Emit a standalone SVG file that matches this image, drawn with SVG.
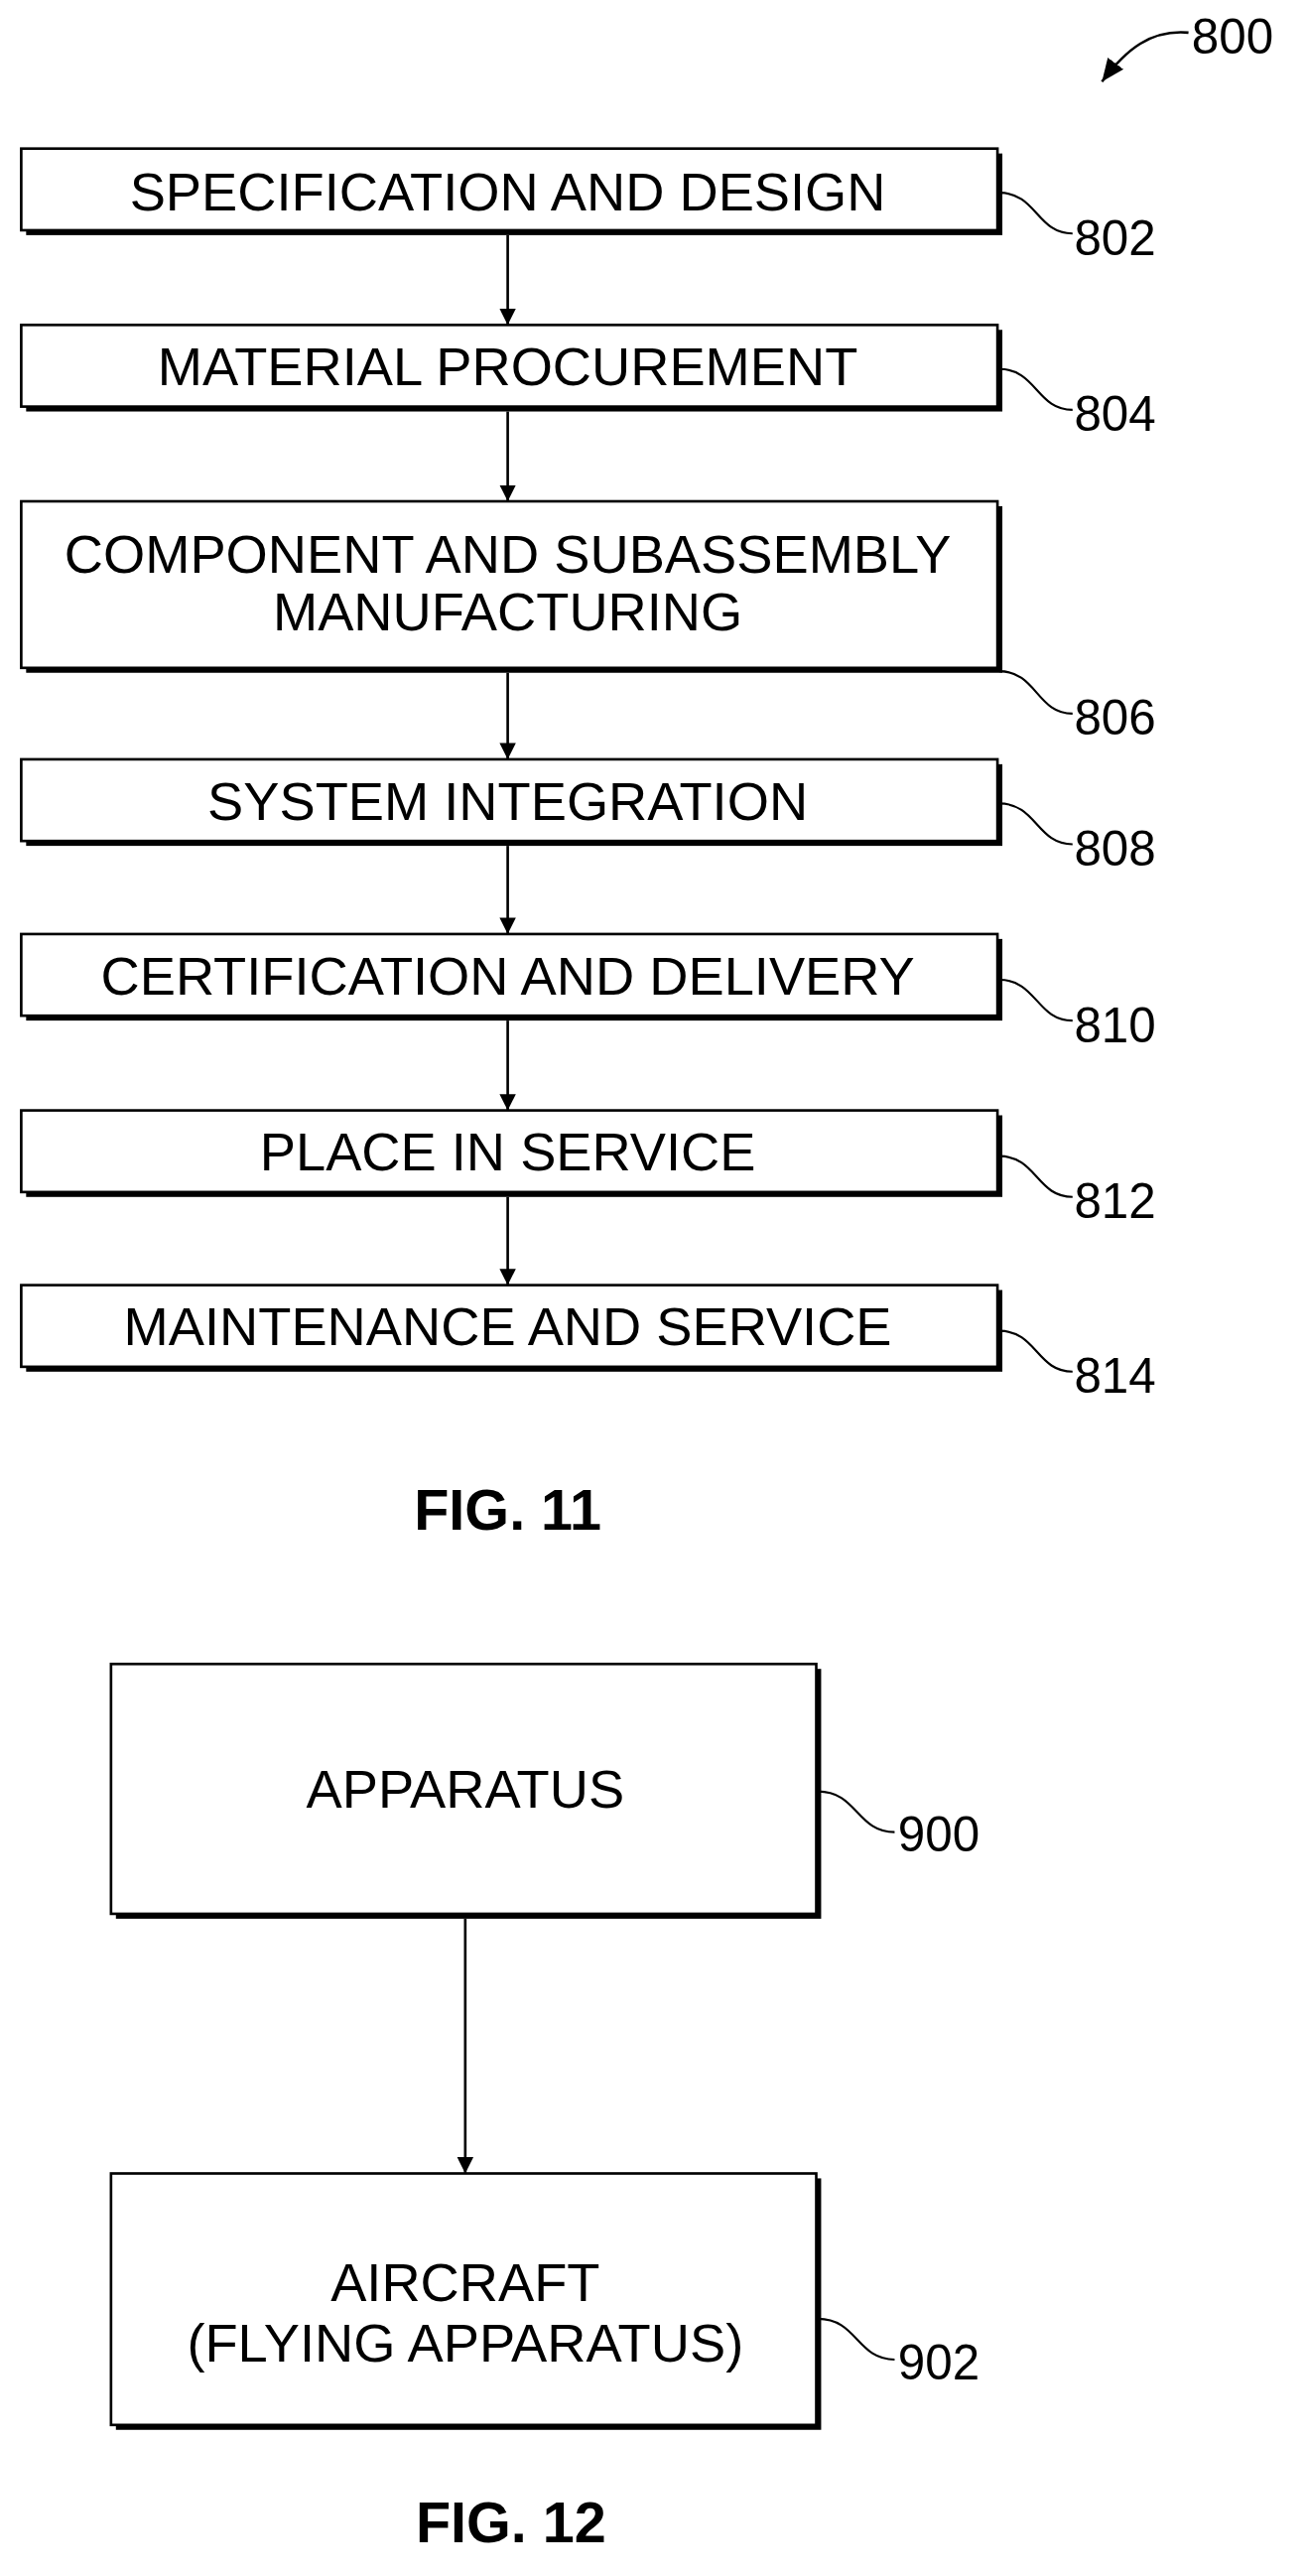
<svg xmlns="http://www.w3.org/2000/svg" width="1316" height="2595" viewBox="0 0 1316 2595">
<defs>
<style>
.box{fill:#fff;stroke:#000;stroke-width:1.6}
.sh{fill:#000}
.t{font-family:"Liberation Sans",Arial,sans-serif;font-size:33px;text-anchor:middle;fill:#000}
.l{font-family:"Liberation Sans",Arial,sans-serif;font-size:30px;fill:#000}
.f{font-family:"Liberation Sans",Arial,sans-serif;font-size:35px;font-weight:bold;text-anchor:middle}
.c{fill:none;stroke:#000;stroke-width:1.6}
.ld{fill:none;stroke:#000;stroke-width:1.3}
</style>
<marker id="a" markerWidth="10" markerHeight="14" refX="10" refY="7" orient="auto" markerUnits="userSpaceOnUse"><path d="M0,2 L10,7 L0,12 Z" fill="#000"/></marker>
<marker id="b" markerWidth="16" markerHeight="16" refX="14" refY="7" orient="auto" markerUnits="userSpaceOnUse"><path d="M0,1 L14,7 L0,13 Z" fill="#000"/></marker>
</defs>
<rect width="1316" height="2595" fill="#fff"/>
<g transform="scale(1.645)">
<g id="ref800"><text class="l" x="730" y="33">800</text><path class="c" d="M728,20 C705,18 690,30 675,50" marker-end="url(#b)"/></g>
<g id="n802"><rect class="sh" x="16" y="94" width="598" height="50"/><rect class="box" x="13" y="91" width="598" height="50"/><text class="t" x="311" y="129">SPECIFICATION AND DESIGN</text><path class="ld" d="M612,118 C635,118 635,143 657,143"/><text class="l" x="658" y="156">802</text></g>
<g id="n804"><rect class="sh" x="16" y="202" width="598" height="50"/><rect class="box" x="13" y="199" width="598" height="50"/><text class="t" x="311" y="236">MATERIAL PROCUREMENT</text><path class="ld" d="M612,226 C635,226 635,251 657,251"/><text class="l" x="658" y="264">804</text></g>
<g id="n806"><rect class="sh" x="16" y="310" width="598" height="102"/><rect class="box" x="13" y="307" width="598" height="102"/><text class="t" x="311" y="351">COMPONENT AND SUBASSEMBLY</text><text class="t" x="311" y="386">MANUFACTURING</text><path class="ld" d="M612,411 C635,411 635,437 657,437"/><text class="l" x="658" y="450">806</text></g>
<g id="n808"><rect class="sh" x="16" y="468" width="598" height="50"/><rect class="box" x="13" y="465" width="598" height="50"/><text class="t" x="311" y="502">SYSTEM INTEGRATION</text><path class="ld" d="M612,492 C635,492 635,517 657,517"/><text class="l" x="658" y="530">808</text></g>
<g id="n810"><rect class="sh" x="16" y="575" width="598" height="50"/><rect class="box" x="13" y="572" width="598" height="50"/><text class="t" x="311" y="609">CERTIFICATION AND DELIVERY</text><path class="ld" d="M612,600 C635,600 635,625 657,625"/><text class="l" x="658" y="638">810</text></g>
<g id="n812"><rect class="sh" x="16" y="683" width="598" height="50"/><rect class="box" x="13" y="680" width="598" height="50"/><text class="t" x="311" y="717">PLACE IN SERVICE</text><path class="ld" d="M612,708 C635,708 635,733 657,733"/><text class="l" x="658" y="746">812</text></g>
<g id="n814"><rect class="sh" x="16" y="790" width="598" height="50"/><rect class="box" x="13" y="787" width="598" height="50"/><text class="t" x="311" y="824">MAINTENANCE AND SERVICE</text><path class="ld" d="M612,815 C635,815 635,840 657,840"/><text class="l" x="658" y="853">814</text></g>
<text class="f" x="311" y="937">FIG. 11</text>
<g id="n900"><rect class="sh" x="71" y="1022" width="432" height="153"/><rect class="box" x="68" y="1019" width="432" height="153"/><text class="t" x="285" y="1107">APPARATUS</text><path class="ld" d="M501,1097 C525,1097 525,1122 548,1122"/><text class="l" x="550" y="1134">900</text></g>
<g id="n902"><rect class="sh" x="71" y="1334" width="432" height="154"/><rect class="box" x="68" y="1331" width="432" height="154"/><text class="t" x="285" y="1409">AIRCRAFT</text><text class="t" x="285" y="1446">(FLYING APPARATUS)</text><path class="ld" d="M501,1420 C525,1420 525,1445 548,1445"/><text class="l" x="550" y="1457">902</text></g>
<text class="f" x="313" y="1557">FIG. 12</text>
<g id="connectors">
<path class="c" d="M311,144 V199" marker-end="url(#a)"/>
<path class="c" d="M311,252 V307" marker-end="url(#a)"/>
<path class="c" d="M311,412 V465" marker-end="url(#a)"/>
<path class="c" d="M311,518 V572" marker-end="url(#a)"/>
<path class="c" d="M311,625 V680" marker-end="url(#a)"/>
<path class="c" d="M311,733 V787" marker-end="url(#a)"/>
<path class="c" d="M285,1175 V1331" marker-end="url(#a)"/>
</g>
</g>
</svg>
